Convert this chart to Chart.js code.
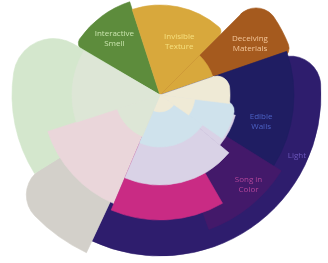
<!DOCTYPE html>
<html>
<head>
<meta charset="utf-8">
<script src="https://cdn.jsdelivr.net/npm/chart.js@4/dist/chart.umd.min.js"></script>
<style>
  html, body { margin: 0; padding: 0; background: #fff; }
  body { width: 328px; height: 263px; overflow: hidden; position: relative; }
  #wrap { position: absolute; left: -50px; top: -115px; width: 420px; height: 420px; }
</style>
</head>
<body>
<div id="wrap"><canvas id="chart" width="420" height="420"></canvas></div>
<script>
// layers from top (drawn last) to bottom; spans in degrees clockwise from 300deg, values = reach
const innerLabels = ['', 'Cream', 'Cream', 'Cream', 'Sage', 'Sage'];
const innerSpans  = [131, 26, 28, 78, 49, 48];
const innerValues = [0, 70, 35, 17, 45, 88];

const blueLabels = ['', 'Blue', 'Blue', ''];
const blueSpans  = [155, 30, 78, 97];
const blueValues = [0, 76, 52, 0];

const lavenderLabels = ['', 'Lavender', 'Lavender', ''];
const lavenderSpans  = [165, 25, 73, 97];
const lavenderValues = [0, 78, 90, 0];

const magentaLabels = ['', 'Magenta', ''];
const magentaSpans  = [210, 53, 97];
const magentaValues = [0, 125, 0];

const midLabels = ['', 'Invisible Texture', 'Edible Walls', 'Song in Color', '', 'Pink', ''];
const midSpans  = [105, 26, 51, 38, 43, 49, 48];
const midValues = [0, 56, 134, 143, 0, 118, 0];

const outerLabels = ['Interactive Smell', 'Invisible Texture', 'Deceiving Materials', 'Light', 'Gray', 'Pale Green'];
const outerSpans  = [42, 63, 28, 132, 33, 62];
const outerValues = [98, 90, 138, 161, 174, 148];

const clear = 'rgba(0,0,0,0)';
const colors = {
  'Interactive Smell': '#5d8c3c',
  'Invisible Texture': '#d8a83c',
  'Deceiving Materials': '#a55a1e',
  'Light': '#2e1d6d',
  'Edible Walls': '#1f1d62',
  'Song in Color': '#43196a',
  'Magenta': '#c92b84',
  'Lavender': '#d9d2e6',
  'Blue': '#cfe2ec',
  'Cream': '#efead6',
  'Pink': '#ead6da',
  'Gray': '#d3d0ca',
  'Pale Green': '#d4e7cd',
  'Sage': '#dde6d6',
  '': clear
};

// corner rounding of the outer silhouette
const outerCorners = [
  { outerStart: 8 }, { outerEnd: 6 }, { outerStart: 22, outerEnd: 10 },
  { outerStart: 30 }, { outerEnd: 30 }, { outerEnd: 40 }
];

// text placement: fraction along the arc, fraction of the reach
const textStyle = {
  'Interactive Smell': { lines: ['Interactive', 'Smell'], color: '#c9e4ad', at: 0.5, r: 0.74 },
  'Invisible Texture': { lines: ['Invisible', 'Texture'], color: '#f6e07e', at: 0.6, r: 0.63 },
  'Deceiving Materials': { lines: ['Deceiving', 'Materials'], color: '#f4c79a', at: 0.55, r: 0.75 },
  'Edible Walls': { lines: ['Edible', 'Walls'], color: '#4d63c6', at: 0.66, r: 0.78 },
  'Song in Color': { lines: ['Song in', 'Color'], color: '#b3469c', at: 0.35, r: 0.88 },
  'Light': { lines: ['Light'], color: '#6d57bd', at: 0.31, r: 0.93 }
};

function layer(labels, spans, values, corners) {
  const bg = labels.map(l => colors[l]);
  return {
    data: values,
    angle: spans,
    labelNames: labels,
    backgroundColor: bg,
    borderColor: bg,
    borderWidth: 0.6,
    clip: false,
    borderRadius: ctx => (corners ? corners[ctx.dataIndex] : 0)
  };
}

const labelPlugin = {
  id: 'arcText',
  afterDatasetsDraw(chart) {
    const ctx = chart.ctx;
    const scale = chart.scales.r;
    const last = chart.data.datasets.length - 1;
    const done = new Set();
    ctx.save();
    ctx.font = '8px "Open Sans", sans-serif';
    ctx.textAlign = 'center';
    ctx.textBaseline = 'middle';
    chart.data.datasets.forEach((ds, di) => {
      const meta = chart.getDatasetMeta(di);
      meta.data.forEach((arc, i) => {
        const name = ds.labelNames[i];
        const st = textStyle[name];
        if (!st || ds.data[i] === 0 || done.has(name)) return;
        if (name === 'Invisible Texture' && di !== last) return;
        done.add(name);
        const a = arc.startAngle + (arc.endAngle - arc.startAngle) * st.at;
        const rr = arc.outerRadius * st.r;
        const x = scale.xCenter + Math.cos(a) * rr;
        const y = scale.yCenter + Math.sin(a) * rr;
        ctx.fillStyle = st.color;
        st.lines.forEach((t, k) => {
          ctx.fillText(t, x, y + (k - (st.lines.length - 1) / 2) * 10);
        });
      });
    });
    ctx.restore();
  }
};

new Chart(document.getElementById('chart'), {
  type: 'polarArea',
  data: {
    labels: outerLabels,
    datasets: [
      layer(innerLabels, innerSpans, innerValues, [0, { outerStart: 14 }, 0, 0, 0, 0]),
      layer(blueLabels, blueSpans, blueValues, [0, { outerStart: 10 }, 0, 0]),
      layer(lavenderLabels, lavenderSpans, lavenderValues),
      layer(magentaLabels, magentaSpans, magentaValues),
      layer(midLabels, midSpans, midValues),
      layer(outerLabels, outerSpans, outerValues, outerCorners)
    ]
  },
  options: {
    responsive: false,
    animation: false,
    layout: { padding: 0 },
    scales: {
      r: { display: false, min: 0, max: 210, startAngle: 300 }
    },
    plugins: {
      legend: { display: false },
      tooltip: { enabled: false }
    }
  },
  plugins: [labelPlugin]
});
</script>
</body>
</html>
